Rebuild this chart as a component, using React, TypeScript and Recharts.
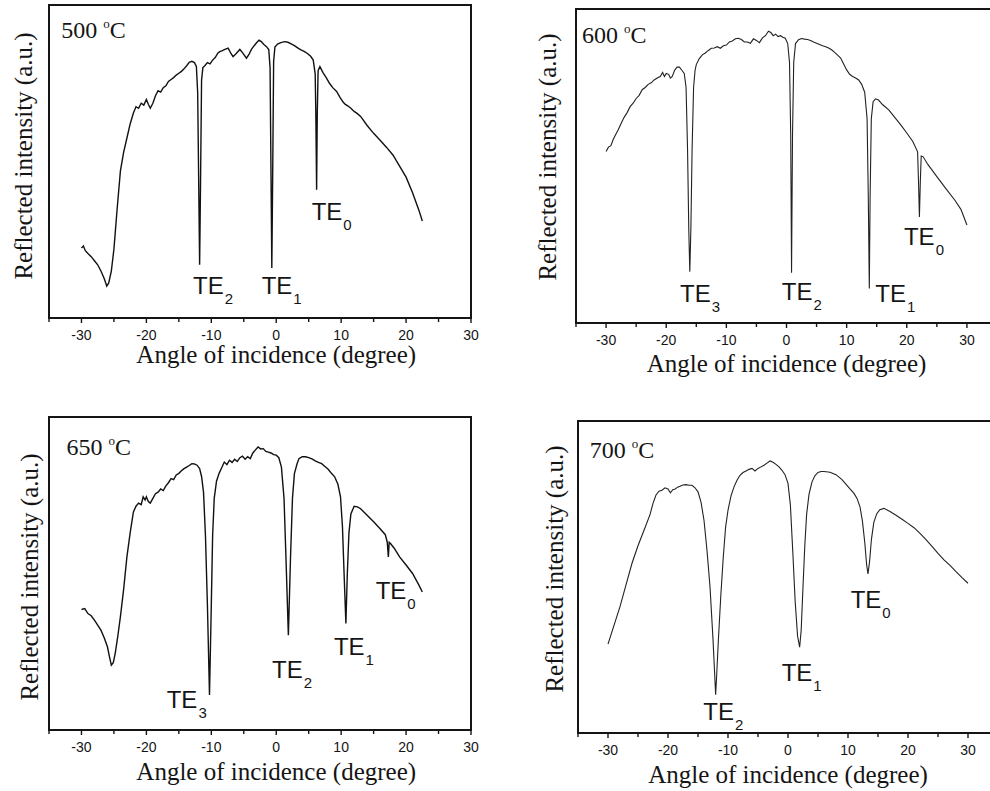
import { Label, Line, LineChart, ReferenceArea, ReferenceDot, XAxis, YAxis } from "recharts";

type Point = [number, number];

interface ModeLabel {
  order: string;
  angle: number;
  level: number;
}

// reflected intensity (a.u., 0 = frame bottom, 100 = frame top) vs angle of incidence
const scan500: Point[] = [
  [-30, 22.4], [-29.7, 23], [-29.4, 21.5], [-29, 20.6], [-28.5, 19.6], [-28, 18.3],
  [-27.5, 17], [-27, 15], [-26.5, 12.6], [-26.1, 10.2], [-25.8, 11.2], [-25.4, 15],
  [-25, 22], [-24.5, 35], [-24, 47], [-23.5, 53], [-23, 57.5], [-22.5, 62], [-22, 65.5],
  [-21.6, 67.5], [-21.2, 67], [-20.8, 68.6], [-20.4, 68], [-20, 69.8], [-19.7, 68.3],
  [-19.4, 67], [-19, 68.6], [-18.6, 71], [-18.2, 72.6], [-17.8, 72.2], [-17.4, 73.6],
  [-17, 74.2], [-16.6, 75.6], [-16.2, 76.2], [-15.8, 76.8], [-15.4, 77.6], [-15, 78.2],
  [-14.6, 78.8], [-14.2, 79.6], [-13.8, 80.6], [-13.4, 81.7], [-13, 82], [-12.6, 81.6],
  [-12.3, 80.4], [-12.1, 72], [-11.95, 45], [-11.8, 17], [-11.65, 45], [-11.5, 76],
  [-11.3, 80], [-11, 80.6], [-10.6, 81.6], [-10.2, 81.2], [-9.8, 82.4], [-9.4, 83.2],
  [-9, 84.6], [-8.7, 85.1], [-8.3, 85.4], [-7.9, 85.8], [-7.4, 86.2], [-7, 84.6],
  [-6.65, 83.5], [-6.2, 84.4], [-5.6, 85.8], [-5.2, 84.8], [-4.58, 83], [-4.2, 84.2],
  [-3.8, 85.9], [-3.4, 87], [-3, 88], [-2.64, 88.8], [-2.3, 88.3], [-1.9, 87.4],
  [-1.5, 86.7], [-1.15, 85.8], [-0.95, 80], [-0.8, 45], [-0.68, 16], [-0.55, 45],
  [-0.4, 82], [-0.2, 86.6], [0.2, 87.5], [0.7, 88], [1.3, 88.3], [1.8, 88.1], [2.3, 87.6],
  [2.8, 87], [3.3, 86.3], [3.8, 85.7], [4.3, 85.2], [4.8, 84.5], [5.3, 83.6], [5.7, 82.4],
  [6.0, 78], [6.1, 65], [6.22, 41], [6.32, 65], [6.45, 79], [6.73, 80.3], [7.2, 78.4],
  [7.7, 76.8], [8.2, 75], [8.7, 73.6], [9.3, 72.4], [9.8, 70.6], [10.3, 69], [10.6, 68.3],
  [11, 67.8], [11.5, 67], [12, 66], [12.5, 65.3], [13, 64.4], [14, 61.5], [15, 59],
  [16, 56.8], [17, 54.5], [18, 52], [19, 48.5], [20, 45], [21, 40], [22, 34.3], [22.5, 31],
];

const scan600: Point[] = [
  [-30, 54.6], [-29.6, 56], [-29.2, 56.5], [-28.8, 58.5], [-28.4, 60], [-28, 61.5],
  [-27.5, 63.5], [-27, 65.5], [-26.5, 67], [-26, 68.9], [-25.5, 70], [-25, 71.5],
  [-24.5, 72.5], [-24, 74.3], [-23.5, 75], [-23, 76], [-22.5, 76.5], [-22, 77.4],
  [-21.5, 78], [-21, 78.5], [-20.6, 79.8], [-20.3, 78.5], [-20, 79.5], [-19.6, 79.2],
  [-19.3, 78], [-19, 78.5], [-18.6, 80.5], [-18.2, 81.5], [-17.8, 81.5], [-17.4, 80.5],
  [-17, 79.5], [-16.7, 75], [-16.45, 55], [-16.25, 30], [-16.08, 16.3], [-15.9, 30],
  [-15.7, 55], [-15.45, 75], [-15.2, 80.5], [-15, 82.3], [-14.5, 84.2], [-14, 85.4],
  [-13.5, 86], [-13, 86.8], [-12.5, 87.5], [-12, 87.6], [-11.5, 88], [-11, 87.5],
  [-10.5, 88.3], [-10, 88.5], [-9.5, 89.5], [-9, 89.8], [-8.5, 90.5], [-8, 90.7],
  [-7.5, 90.3], [-7, 89.5], [-6.5, 89.5], [-6, 89.1], [-5.5, 90.5], [-5, 90],
  [-4.5, 89.3], [-4, 90.8], [-3.5, 91.5], [-3, 92.9], [-2.6, 92.5], [-2.2, 91.5],
  [-1.8, 92], [-1.4, 91.2], [-1, 91.5], [-0.6, 91], [-0.2, 90.7], [0.2, 89], [0.5, 83],
  [0.7, 60], [0.84, 16], [1.0, 60], [1.2, 83], [1.5, 89], [2, 90.2], [2.5, 90.6],
  [3, 90.4], [3.5, 90.3], [4, 90], [4.5, 89.5], [5, 89.1], [5.5, 88.7], [6, 88.3],
  [6.5, 88], [7, 87.6], [7.5, 87], [8, 86.2], [8.5, 85.3], [9, 84.4], [9.5, 82.5],
  [10, 80.6], [10.5, 79.2], [11, 78.5], [11.5, 78], [12, 77.4], [12.5, 76], [13, 73.5],
  [13.4, 65], [13.6, 40], [13.77, 11], [13.9, 40], [14.1, 65], [14.4, 70.5], [14.8, 71.4],
  [15.3, 71], [16, 69.5], [17, 67.9], [18, 65.5], [19, 63.1], [20, 60.5], [21, 57.8],
  [21.8, 54.5], [21.95, 45], [22.1, 33.8], [22.25, 45], [22.4, 53.2], [22.7, 53],
  [23.5, 50.5], [25, 46.6], [26.5, 42.8], [28, 39.1], [29, 36.2], [30, 31.2],
];

const scan650: Point[] = [
  [-30, 38.5], [-29.5, 38.8], [-29, 37.2], [-28.5, 36.5], [-28, 35.1], [-27.5, 33.5],
  [-27, 31.9], [-26.5, 29.5], [-26, 26.6], [-25.7, 23.5], [-25.4, 20.7], [-25.1, 21.5],
  [-24.8, 24.5], [-24.4, 30], [-24, 36.2], [-23.5, 45], [-23, 55.3], [-22.5, 63],
  [-22, 69.7], [-21.6, 71.5], [-21.2, 72.5], [-20.8, 72], [-20.5, 74.5], [-20.2, 73.5],
  [-20, 74.5], [-19.7, 73], [-19.4, 72.5], [-19, 74], [-18.6, 75.5], [-18.2, 76],
  [-17.8, 77], [-17.4, 76.5], [-17, 78], [-16.6, 79], [-16.2, 80.3], [-15.8, 80],
  [-15.4, 81.5], [-15, 82], [-14.6, 82.8], [-14.2, 83.5], [-13.8, 84], [-13.4, 84.5],
  [-13, 85.1], [-12.6, 85], [-12.2, 84.6], [-11.8, 83.5], [-11.5, 81], [-11.2, 76],
  [-10.9, 62], [-10.6, 40], [-10.28, 11.2], [-10.0, 40], [-9.8, 62], [-9.55, 74],
  [-9.2, 79.5], [-8.8, 82], [-8.4, 83.8], [-8, 85.6], [-7.6, 84.8], [-7.2, 86.2],
  [-6.8, 85.5], [-6.4, 86.5], [-6, 85.8], [-5.6, 87], [-5.2, 87.5], [-4.8, 86.5],
  [-4.4, 87.3], [-4, 86.7], [-3.6, 88.5], [-3.2, 89.5], [-2.8, 90.4], [-2.4, 89.8],
  [-2, 89.9], [-1.6, 89], [-1.2, 88.8], [-0.8, 88.5], [-0.4, 88], [0, 87.8], [0.4, 87],
  [0.8, 84], [1.2, 74], [1.5, 55], [1.87, 30.3], [2.2, 55], [2.5, 74], [2.8, 81.9],
  [3.2, 85], [3.5, 86.7], [4, 87.3], [4.5, 87.3], [5, 87], [5.5, 86.6], [6, 86],
  [6.5, 85.5], [7, 85.1], [7.5, 84.2], [8, 83.3], [8.5, 82], [9, 80.9], [9.5, 78.5],
  [9.9, 74.5], [10.2, 65], [10.45, 50], [10.73, 34], [10.95, 50], [11.2, 63], [11.5, 69],
  [12, 71.5], [12.5, 71.3], [13, 70.7], [14, 68.6], [15, 66.5], [16, 64.3], [16.8, 62.4],
  [17.1, 60], [17.27, 55.3], [17.4, 60], [17.6, 59.6], [18.2, 58], [19, 55.3], [20, 52.7],
  [21, 50], [22, 46.2], [22.5, 44.1],
];

const scan700: Point[] = [
  [-30, 28.5], [-29, 34.5], [-28, 40.5], [-27, 47.5], [-26, 54.4], [-25, 60], [-24, 65],
  [-23, 70], [-22.5, 73.6], [-22, 76.3], [-21.5, 77.5], [-21, 77.8], [-20.5, 78.6],
  [-20, 78.2], [-19.6, 77], [-19.2, 78], [-18.8, 78.2], [-18.4, 78.8], [-18, 79.1],
  [-17.5, 79.5], [-17, 79.6], [-16.5, 79.4], [-16, 79.4], [-15.5, 78.6], [-15, 77.3],
  [-14.5, 74], [-14, 68.2], [-13.5, 58.5], [-13, 46.9], [-12.5, 30], [-12.2, 18],
  [-12.06, 12.3], [-11.9, 18], [-11.6, 29.9], [-11.2, 44], [-10.8, 56], [-10.4, 66],
  [-10, 71.4], [-9.5, 76], [-9, 78.9], [-8.5, 81], [-8, 82.6], [-7.5, 83.5], [-7, 84],
  [-6.5, 84.5], [-6, 84.8], [-5.5, 84], [-5, 84.8], [-4.5, 85.3], [-4, 85.8], [-3.5, 86.5],
  [-3, 87.2], [-2.5, 86.8], [-2, 86.1], [-1.5, 85.3], [-1, 84.2], [-0.5, 82.8], [0, 80],
  [0.4, 73], [0.8, 58], [1.2, 42], [1.6, 31], [1.94, 27.5], [2.2, 33], [2.5, 46.9],
  [2.8, 60], [3.1, 70], [3.5, 76.5], [4, 80.5], [4.5, 82.5], [5, 83.5], [5.5, 83.8],
  [6, 83.8], [7, 83.6], [8, 82.8], [9, 81.2], [10, 79], [11, 76.8], [11.5, 75.2],
  [12, 72.5], [12.4, 68], [12.8, 61], [13.1, 54], [13.33, 51], [13.6, 55], [13.9, 62],
  [14.3, 67.5], [14.8, 70.3], [15.3, 71.6], [16, 72], [17, 71], [18, 69.8], [19, 68.5],
  [20, 67.2], [21, 65.8], [22, 64], [23, 62], [24, 59.8], [25, 57.6], [26, 55.5],
  [27, 53.7], [28, 51.7], [29, 49.8], [30, 48],
];

const modes500: ModeLabel[] = [
  { order: "2", angle: -12.82, level: 7.6 },
  { order: "1", angle: -2.24, level: 7.6 },
  { order: "0", angle: 5.46, level: 31.3 },
];
const modes600: ModeLabel[] = [
  { order: "3", angle: -17.69, level: 6.7 },
  { order: "2", angle: -0.77, level: 7.2 },
  { order: "1", angle: 14.76, level: 6.7 },
  { order: "0", angle: 19.53, level: 24.8 },
];
const modes650: ModeLabel[] = [
  { order: "3", angle: -16.87, level: 6.9 },
  { order: "2", angle: -0.65, level: 16.5 },
  { order: "1", angle: 8.88, level: 23.9 },
  { order: "0", angle: 15.31, level: 42 },
];
const modes700: ModeLabel[] = [
  { order: "2", angle: -14.11, level: 4.3 },
  { order: "1", angle: -1.06, level: 16.7 },
  { order: "0", angle: 10.44, level: 40 },
];

const ticksShort = [-35, -30, -25, -20, -15, -10, -5, 0, 5, 10, 15, 20, 25, 30];
const ticksFull = [-35, -30, -25, -20, -15, -10, -5, 0, 5, 10, 15, 20, 25, 30, 35];

const serif = "'Liberation Serif', 'Times New Roman', serif";
const sans = "'Liberation Sans', Arial, sans-serif";
const ink = "#151515";

interface PanelProps {
  left: number;
  top: number;
  width: number;
  margin: { top: number; right: number; bottom: number; left: number };
  yAxisWidth: number;
  domain: [number, number];
  ticks: number[];
  scan: Point[];
  temperature: string;
  tempAt: [number, number];
  modes: ModeLabel[];
  stroke: string;
  strokeWidth: number;
  yTitleX: number;
  yTitleY: number;
  xTitleDy: number;
}

function AngleTick(props: any) {
  const { x, y, payload } = props;
  const major = payload.value % 10 === 0;
  return (
    <g>
      <line x1={x} x2={x} y1={y} y2={y + (major ? 5 : 4)} stroke={ink} strokeWidth={1.4} />
      {major && (
        <text x={x} y={y + 22} textAnchor="middle" fontSize={14} fontFamily={sans} fill={ink}>
          {payload.value}
        </text>
      )}
    </g>
  );
}

function Panel(p: PanelProps) {
  const data = p.scan.map(([angle, refl]) => ({ angle, refl }));
  const [d0, d1] = p.domain;

  return (
    <div style={{ position: "absolute", left: p.left, top: p.top }}>
      <LineChart width={p.width} height={400} data={data} margin={p.margin}>
        <XAxis
          dataKey="angle"
          type="number"
          domain={p.domain}
          ticks={p.ticks}
          interval={0}
          allowDataOverflow
          axisLine={false}
          tickLine={false}
          tickSize={0}
          tickMargin={0}
          height={60}
          tick={<AngleTick />}
          label={
            <Label
              content={(lp: any) => {
                const vb = lp.viewBox;
                const cx = vb.x + (vb.width * (0 - d0)) / (d1 - d0);
                return (
                  <text x={cx} y={vb.y + p.xTitleDy} textAnchor="middle" fontSize={25} fontFamily={serif} fill={ink}>
                    Angle of incidence (degree)
                  </text>
                );
              }}
            />
          }
        />
        <YAxis
          type="number"
          domain={[0, 100]}
          allowDataOverflow
          width={p.yAxisWidth}
          tick={false}
          axisLine={false}
          tickLine={false}
          label={
            <Label
              content={() => (
                <text
                  x={p.yTitleX}
                  y={p.yTitleY}
                  transform={`rotate(-90, ${p.yTitleX}, ${p.yTitleY})`}
                  textAnchor="middle"
                  fontSize={25}
                  fontFamily={serif}
                  fill={ink}
                >
                  Reflected intensity (a.u.)
                </text>
              )}
            />
          }
        />
        <ReferenceArea
          x1={d0}
          x2={d1}
          y1={0}
          y2={100}
          fill="none"
          stroke={ink}
          strokeWidth={2}
          ifOverflow="visible"
        />
        <Line
          dataKey="refl"
          type="linear"
          stroke={p.stroke}
          strokeWidth={p.strokeWidth}
          dot={false}
          isAnimationActive={false}
        />
        <ReferenceDot
          x={p.tempAt[0]}
          y={p.tempAt[1]}
          r={0}
          shape={(sp: any) => (
            <text x={sp.cx} y={sp.cy} fontSize={24} fontFamily={serif} fill={ink}>
              {p.temperature}{" "}
              <tspan dy={-10} fontSize={13}>o</tspan>
              <tspan dy={10}>C</tspan>
            </text>
          )}
        />
        {p.modes.map((m) => (
          <ReferenceDot
            key={m.order}
            x={m.angle}
            y={m.level}
            r={0}
            shape={(sp: any) => (
              <text x={sp.cx} y={sp.cy} fontSize={24} fontFamily={sans} fill={ink}>
                TE
                <tspan dx={1} dy={10} fontSize={15}>{m.order}</tspan>
              </text>
            )}
          />
        ))}
      </LineChart>
    </div>
  );
}

export default function App() {
  return (
    <div
      style={{
        position: "absolute",
        left: 0,
        top: 0,
        width: 990,
        height: 791,
        overflow: "hidden",
        background: "#fff",
      }}
    >
      <Panel
        left={0}
        top={0}
        width={495}
        margin={{ top: 5, right: 24, bottom: 22, left: 0 }}
        yAxisWidth={49}
        domain={[-35, 30]}
        ticks={ticksShort}
        scan={scan500}
        temperature="500"
        tempAt={[-33.1, 89.4]}
        modes={modes500}
        stroke="#111"
        strokeWidth={1.4}
        yTitleX={32}
        yTitleY={156}
        xTitleDy={45}
      />
      <Panel
        left={495}
        top={0}
        width={510}
        margin={{ top: 9, right: 8, bottom: 17, left: 0 }}
        yAxisWidth={81}
        domain={[-35, 35]}
        ticks={ticksFull}
        scan={scan600}
        temperature="600"
        tempAt={[-34.0, 89.2]}
        modes={modes600}
        stroke="#222"
        strokeWidth={1.1}
        yTitleX={61}
        yTitleY={157}
        xTitleDy={49}
      />
      <Panel
        left={0}
        top={400}
        width={495}
        margin={{ top: 17, right: 24, bottom: 10, left: 0 }}
        yAxisWidth={49}
        domain={[-35, 30]}
        ticks={ticksShort}
        scan={scan650}
        temperature="650"
        tempAt={[-32.3, 87.8]}
        modes={modes650}
        stroke="#111"
        strokeWidth={1.4}
        yTitleX={38}
        yTitleY={177}
        xTitleDy={50}
      />
      <Panel
        left={495}
        top={400}
        width={510}
        margin={{ top: 21, right: 7, bottom: 7, left: 0 }}
        yAxisWidth={83}
        domain={[-35, 35]}
        ticks={ticksFull}
        scan={scan700}
        temperature="700"
        tempAt={[-33.05, 88.3]}
        modes={modes700}
        stroke="#222"
        strokeWidth={1.1}
        yTitleX={68}
        yTitleY={169}
        xTitleDy={50}
      />
    </div>
  );
}
